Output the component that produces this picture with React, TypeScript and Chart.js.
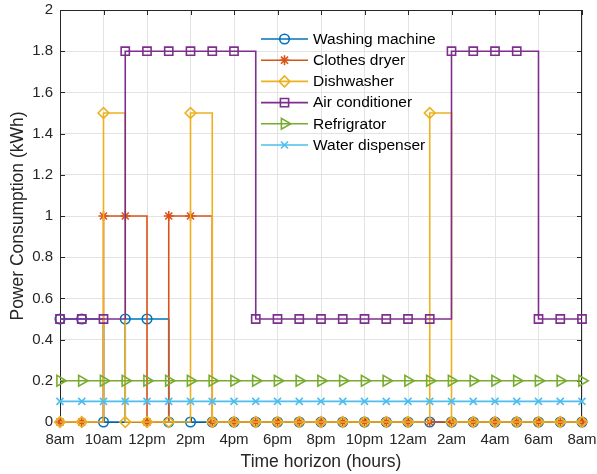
import React, { useEffect, useRef } from 'react';
import { Chart, registerables } from 'chart.js';
import { drawPoint } from 'chart.js/helpers';

Chart.register(...registerables);

// ---- data ----
const hours = [0, 1, 2, 3, 4, 5, 6, 7, 8, 9, 10, 11, 12, 13, 14, 15, 16, 17, 18, 19, 20, 21, 22, 23, 24];
const xTickLabels = ['8am', '10am', '12pm', '2pm', '4pm', '6pm', '8pm', '10pm', '12am', '2am', '4am', '6am', '8am'];
const yTickLabels = ['0', '0.2', '0.4', '0.6', '0.8', '1', '1.2', '1.4', '1.6', '1.8', '2'];

const washingMachine = [0.5, 0.5, 0, 0.5, 0.5, 0, 0, 0, 0, 0, 0, 0, 0, 0, 0, 0, 0, 0, 0, 0, 0, 0, 0, 0, 0];
const clothesDryer = [0, 0, 1, 1, 0, 1, 1, 0, 0, 0, 0, 0, 0, 0, 0, 0, 0, 0, 0, 0, 0, 0, 0, 0, 0];
const dishwasher = [0, 0, 1.5, 0, 0, 0, 1.5, 0, 0, 0, 0, 0, 0, 0, 0, 0, 0, 1.5, 0, 0, 0, 0, 0, 0, 0];
const airConditioner = [0.5, 0.5, 0.5, 1.8, 1.8, 1.8, 1.8, 1.8, 1.8, 0.5, 0.5, 0.5, 0.5, 0.5, 0.5, 0.5, 0.5, 0.5, 1.8, 1.8, 1.8, 1.8, 0.5, 0.5, 0.5];
const refrigerator = [0.2, 0.2, 0.2, 0.2, 0.2, 0.2, 0.2, 0.2, 0.2, 0.2, 0.2, 0.2, 0.2, 0.2, 0.2, 0.2, 0.2, 0.2, 0.2, 0.2, 0.2, 0.2, 0.2, 0.2, 0.2];
const waterDispenser = [0.1, 0.1, 0.1, 0.1, 0.1, 0.1, 0.1, 0.1, 0.1, 0.1, 0.1, 0.1, 0.1, 0.1, 0.1, 0.1, 0.1, 0.1, 0.1, 0.1, 0.1, 0.1, 0.1, 0.1, 0.1];

const seriesNames = ['Washing machine', 'Clothes dryer', 'Dishwasher', 'Air conditioner', 'Refrigrator', 'Water dispenser'];
const seriesValues = [washingMachine, clothesDryer, dishwasher, airConditioner, refrigerator, waterDispenser];

// ---- styles ----
const colors = ['#0072BD', '#D95319', '#EDB120', '#7E2F8E', '#77AC30', '#4DBEEE'];
const markers = [
  { pointStyle: 'circle', rotation: 0, radius: 4.8 },
  { pointStyle: 'star', rotation: 0, radius: 5 },
  { pointStyle: 'rectRot', rotation: 0, radius: 5.4 },
  { pointStyle: 'rect', rotation: 0, radius: 5.8 },
  { pointStyle: 'triangle', rotation: 90, radius: 6.2 },
  { pointStyle: 'crossRot', rotation: 0, radius: 5 },
];

const FONT = '"Liberation Sans", Arial, Helvetica, sans-serif';
const AXIS_COLOR = '#262626';
const LINE_W = 1.6;

const zeroPadding = (scale: any) => {
  scale.paddingTop = 0;
  scale.paddingBottom = 0;
  scale.paddingLeft = 0;
  scale.paddingRight = 0;
};

const boxPlugin = {
  id: 'matlabBox',
  beforeDatasetsDraw(chart: any) {
    const { ctx, chartArea } = chart;
    const { left, right, top, bottom } = chartArea;
    const xs = chart.scales.x;
    const ys = chart.scales.y;
    ctx.save();
    ctx.strokeStyle = AXIS_COLOR;
    ctx.lineWidth = 1;
    ctx.beginPath();
    ctx.moveTo(left, Math.round(top) + 0.5);
    ctx.lineTo(right, Math.round(top) + 0.5);
    ctx.moveTo(Math.round(right) - 0.5, top);
    ctx.lineTo(Math.round(right) - 0.5, bottom);
    const tl = 5;
    xs.ticks.forEach((t: any) => {
      const px = Math.round(xs.getPixelForValue(t.value)) + 0.5;
      ctx.moveTo(px, bottom);
      ctx.lineTo(px, bottom - tl);
      ctx.moveTo(px, top);
      ctx.lineTo(px, top + tl);
    });
    ys.ticks.forEach((t: any) => {
      const py = Math.round(ys.getPixelForValue(t.value)) + 0.5;
      ctx.moveTo(left, py);
      ctx.lineTo(left + tl, py);
      ctx.moveTo(right, py);
      ctx.lineTo(right - tl, py);
    });
    ctx.stroke();
    ctx.restore();
  },
};

const legendPlugin = {
  id: 'matlabLegend',
  afterDatasetsDraw(chart: any) {
    const { ctx } = chart;
    ctx.save();
    seriesNames.forEach((name, i) => {
      const y = 39 + i * 21.2;
      const x0 = 261;
      const x1 = 308;
      ctx.strokeStyle = colors[i];
      ctx.lineWidth = LINE_W;
      ctx.beginPath();
      ctx.moveTo(x0, y);
      ctx.lineTo(x1, y);
      ctx.stroke();
      ctx.fillStyle = 'rgba(0,0,0,0)';
      ctx.strokeStyle = colors[i];
      ctx.lineWidth = LINE_W;
      drawPoint(ctx, {
        pointStyle: markers[i].pointStyle as any,
        rotation: markers[i].rotation,
        radius: markers[i].radius,
        borderWidth: LINE_W,
      } as any, (x0 + x1) / 2, y);
      ctx.fillStyle = '#000';
      ctx.font = `15.5px ${FONT}`;
      ctx.textAlign = 'left';
      ctx.textBaseline = 'middle';
      ctx.fillText(name, 313, y + 0.5);
    });
    ctx.restore();
  },
};

export default function App() {
  const canvasRef = useRef<HTMLCanvasElement | null>(null);

  useEffect(() => {
    document.body.style.margin = '0';
    const canvas = canvasRef.current;
    if (!canvas) return;

    const datasets = seriesNames.map((name, i) => ({
      label: name,
      data: hours.map((h, k) => ({ x: h, y: seriesValues[i][k] })),
      borderColor: colors[i],
      backgroundColor: 'rgba(0,0,0,0)',
      borderWidth: LINE_W,
      stepped: 'before' as const,
      fill: false,
      pointStyle: markers[i].pointStyle as any,
      pointRotation: markers[i].rotation,
      pointRadius: markers[i].radius,
      pointBorderWidth: LINE_W,
      pointBorderColor: colors[i],
      pointBackgroundColor: 'rgba(0,0,0,0)',
      clip: false as any,
      order: seriesNames.length - i,
    }));

    const chart = new Chart(canvas, {
      type: 'line',
      data: { datasets },
      options: {
        animation: false,
        responsive: false,
        devicePixelRatio: 1,
        events: [],
        layout: { padding: { left: 0, right: 15, top: 10, bottom: 0 } },
        plugins: {
          legend: { display: false },
          tooltip: { enabled: false },
        },
        scales: {
          x: {
            type: 'linear',
            min: 0,
            max: 24,
            afterFit: (scale: any) => {
              scale.height = 52;
              zeroPadding(scale);
            },
            ticks: {
              stepSize: 2,
              autoSkip: false,
              maxRotation: 0,
              padding: 9,
              color: AXIS_COLOR,
              font: { family: FONT, size: 15 },
              callback: (v: any) => {
                const idx = Math.round(Number(v) / 2);
                return xTickLabels[idx] ?? '';
              },
            },
            grid: { color: '#E3E3E3', lineWidth: 1, drawTicks: false },
            border: { display: true, color: AXIS_COLOR, width: 1 },
            title: {
              display: true,
              text: 'Time horizon (hours)',
              color: AXIS_COLOR,
              font: { family: FONT, size: 17.5 },
              padding: { top: 0, bottom: 1 },
            },
          },
          y: {
            type: 'linear',
            min: 0,
            max: 2,
            afterFit: (scale: any) => {
              scale.width = 60;
              zeroPadding(scale);
            },
            ticks: {
              stepSize: 0.2,
              padding: 7,
              color: AXIS_COLOR,
              font: { family: FONT, size: 15 },
              callback: (v: any) => {
                const idx = Math.round(Number(v) / 0.2);
                return yTickLabels[idx] ?? '';
              },
            },
            grid: { color: '#E3E3E3', lineWidth: 1, drawTicks: false },
            border: { display: true, color: AXIS_COLOR, width: 1 },
            title: {
              display: true,
              text: 'Power Consumption (kWh)',
              color: AXIS_COLOR,
              font: { family: FONT, size: 17.5 },
              padding: { top: 8, bottom: 0 },
            },
          },
        },
      },
      plugins: [boxPlugin, legendPlugin],
    });

    return () => {
      chart.destroy();
    };
  }, []);

  return (
    <div style={{ position: 'absolute', left: 0, top: 0, width: 597, height: 474, background: '#fff' }}>
      <canvas ref={canvasRef} width={597} height={474} style={{ width: 597, height: 474, display: 'block' }} />
    </div>
  );
}
